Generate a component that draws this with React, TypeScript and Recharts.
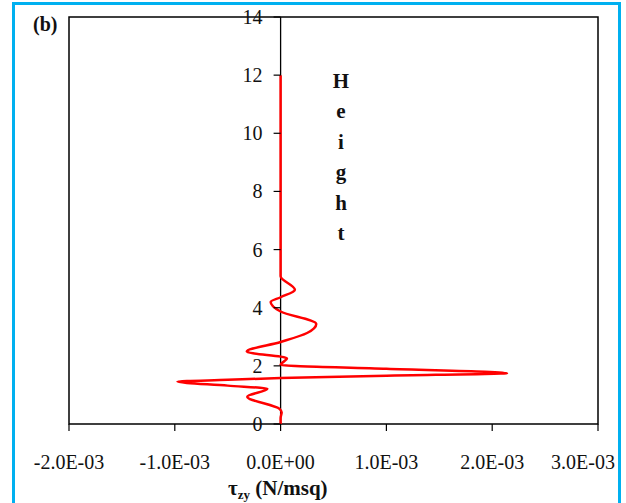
import React from 'react';
import { LineChart, Line, XAxis, YAxis, ReferenceLine, ReferenceArea, ReferenceDot } from 'recharts';

// shear stress profile (N/m^2)
const heights = [0, 0.2, 0.4, 0.52, 0.94, 1.21, 1.32, 1.46, 1.52, 1.58, 1.66, 1.75, 1.9, 2.03, 2.26, 2.49, 2.82, 3.13, 3.44, 3.87, 4.2, 4.36, 4.62, 5.08, 6, 8, 10, 12];
const tauZy = [0, 0, 0.00001, -0.00001, -0.000315, -0.000125, -0.0005, -0.000975, -0.0005, 0, 0.001, 0.00214, 0.001, 0, 0.00006, -0.00032, 0, 0.00025, 0.000337, 0, -0.000094, 0, 0.000135, 0, 0, 0, 0, 0];

const xTicks = [-0.002, -0.001, 0, 0.001, 0.002, 0.003];
const yTicks = [0, 2, 4, 6, 8, 10, 12, 14];
const sideLabel = ['H', 'e', 'i', 'g', 'h', 't'];

const data = heights.map((h, i) => ({ h, tau: tauZy[i] }));

const FONT = '"Liberation Serif", "Times New Roman", serif';
const INK = '#111';

const fmtSci = (v: number) => {
  const [m, e] = v.toExponential(1).split('e');
  const sign = e[0] === '-' ? '-' : '+';
  const digits = e.replace(/[+-]/, '').padStart(2, '0');
  return `${m}E${sign}${digits}`;
};

// last label is pulled inside the frame like in the original
const XTick = (props: any) => {
  const { x, y, payload, index } = props;
  const last = index === xTicks.length - 1;
  return (
    <text
      x={last ? x + 17 : x}
      y={y}
      dy="0.71em"
      textAnchor={last ? 'end' : 'middle'}
      fontFamily={FONT}
      fontSize={20}
      fill={INK}
    >
      {fmtSci(payload.value)}
    </text>
  );
};

const yTickShape = (label: string) => (props: any) => (
  <g>
    <line x1={props.cx - 7} y1={props.cy} x2={props.cx} y2={props.cy} stroke="#000" strokeWidth={1.2} />
    <text x={props.cx - 18} y={props.cy} dy="0.35em" textAnchor="end" fontFamily={FONT} fontSize={20} fill={INK}>
      {label}
    </text>
  </g>
);

export default function App() {
  return (
    <div style={{ position: 'fixed', left: 0, top: 0, width: 626, height: 503, overflow: 'hidden', background: '#fff' }}>
      <div
        style={{
          position: 'absolute', left: 12, top: 2, width: 609, height: 560,
          border: '3px solid #00B0F0', boxSizing: 'border-box',
        }}
      />
      <div style={{ position: 'absolute', left: 0, top: 0 }}>
        <LineChart width={626} height={503} data={data} layout="vertical" margin={{ top: 17, right: 28, bottom: 49, left: 69 }}>
          <XAxis
            type="number"
            dataKey="tau"
            domain={[-0.002, 0.003]}
            ticks={xTicks}
            axisLine={false}
            tickLine={{ stroke: '#000', strokeWidth: 1.2 }}
            tickSize={7}
            tickMargin={24}
            height={30}
            tick={<XTick />}
            interval={0}
            allowDataOverflow
          />
          <YAxis type="number" dataKey="h" domain={[0, 14]} ticks={yTicks} reversed hide allowDataOverflow />
          <ReferenceArea x1={-0.002} x2={0.003} y1={0} y2={14} fill="none" fillOpacity={0} stroke="#000" strokeWidth={1.5} />
          <ReferenceLine x={0} stroke="#000" strokeWidth={1.3} />
          {yTicks.map(t => (
            <ReferenceDot key={t} x={0} y={t} shape={yTickShape(String(t))} />
          ))}
          <Line
            type="monotone"
            dataKey="tau"
            stroke="#ff0000"
            strokeWidth={2.5}
            dot={false}
            isAnimationActive={false}
          />
        </LineChart>
      </div>
      <svg width={626} height={503} style={{ position: 'absolute', left: 0, top: 0, pointerEvents: 'none' }}>
        <text x={33} y={31} fontFamily={FONT} fontSize={20} fontWeight="bold" fill={INK}>(b)</text>
        {sideLabel.map((c, i) => (
          <text key={i} x={341} y={88 + i * 30.4} textAnchor="middle" fontFamily={FONT} fontSize={21} fontWeight="bold" fill={INK}>
            {c}
          </text>
        ))}
        <text x={228} y={495} fontFamily={FONT} fontSize={21} fontWeight="bold" fill={INK}>
          τ<tspan fontSize={13} dy={4}>zy</tspan>
          <tspan dy={-4}> (N/msq)</tspan>
        </text>
      </svg>
    </div>
  );
}
